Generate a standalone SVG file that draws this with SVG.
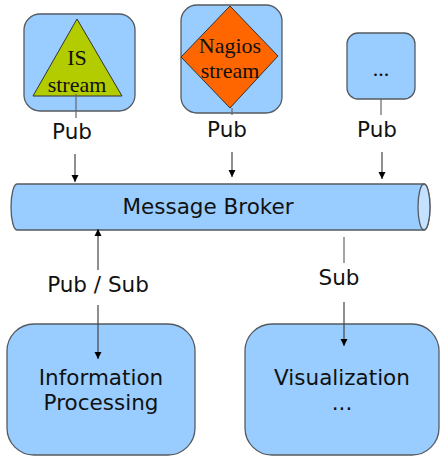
<svg xmlns="http://www.w3.org/2000/svg" width="440" height="457" viewBox="0 0 440 457">
  <style>
    .box { fill: #99ccff; stroke: #555a60; stroke-width: 1.3; }
    .lbl { font-family: "DejaVu Sans", "Liberation Sans", sans-serif; font-size: 21.5px; fill: #111; text-anchor: middle; }
    .ser { font-family: "Liberation Serif", "DejaVu Serif", serif; font-size: 22px; fill: #111; text-anchor: middle; }
    .ln { stroke: #666; stroke-width: 1.2; fill: none; }
    .ar { stroke: #444; stroke-width: 1.2; fill: none; marker-end: url(#head); }
  </style>
  <defs>
    <marker id="head" viewBox="0 0 10 10" refX="10" refY="5" markerWidth="7" markerHeight="9" markerUnits="userSpaceOnUse" orient="auto">
      <path d="M0,0 L10,5 L0,10 z" fill="#000"/>
    </marker>
  </defs>

  <!-- source streams -->
  <g id="is-stream">
    <rect class="box" x="24" y="14" width="111" height="97" rx="16"/>
    <polygon points="77,19 33,96 122,96" fill="#b3cc00" stroke="#333" stroke-width="1"/>
    <text class="ser" x="77" y="65">IS</text>
    <text class="ser" x="77" y="92">stream</text>
  </g>

  <g id="nagios-stream">
    <rect class="box" x="181" y="5" width="101" height="108" rx="16"/>
    <polygon points="230,6 278,56 230,108 181,57" fill="#ff6600" stroke="#333" stroke-width="1"/>
    <text class="ser" x="230" y="53">Nagios</text>
    <text class="ser" x="230" y="78">stream</text>
  </g>

  <g id="other-stream">
    <rect class="box" x="347" y="33" width="68" height="66" rx="11"/>
    <text class="ser" x="381" y="76">...</text>
  </g>

  <!-- broker bus -->
  <g id="message-broker">
    <path class="box" d="M17,184 L424,184 A6,23 0 0 1 424,230 L17,230 A6,23 0 0 1 17,184 Z"/>
    <ellipse cx="424" cy="207" rx="6" ry="23" fill="#c4e1ff" stroke="#555a60" stroke-width="1.3"/>
    <text class="lbl" x="208" y="214">Message Broker</text>
  </g>

  <!-- consumers -->
  <g id="information-processing">
    <rect class="box" x="7" y="324" width="188" height="131" rx="27"/>
    <text class="lbl" x="101" y="385">Information</text>
    <text class="lbl" x="101" y="410">Processing</text>
  </g>

  <g id="visualization">
    <rect class="box" x="245" y="324" width="194" height="131" rx="27"/>
    <text class="lbl" x="342" y="385">Visualization</text>
    <text class="lbl" x="342" y="410">...</text>
  </g>

  <!-- connectors -->
  <g id="connectors">
    <line class="ln" x1="76" y1="94" x2="76" y2="118"/>
    <text class="lbl" x="72" y="139">Pub</text>
    <line class="ar" x1="75" y1="154" x2="75" y2="182"/>

    <line class="ln" x1="232" y1="108" x2="232" y2="115"/>
    <text class="lbl" x="227" y="137">Pub</text>
    <line class="ar" x1="232" y1="152" x2="232" y2="177"/>

    <line class="ln" x1="381" y1="99" x2="381" y2="115"/>
    <text class="lbl" x="377" y="137">Pub</text>
    <line class="ar" x1="382" y1="152" x2="382" y2="179"/>

    <line class="ar" x1="98" y1="270" x2="98" y2="229"/>
    <text class="lbl" x="98" y="292">Pub / Sub</text>
    <line class="ar" x1="98" y1="305" x2="98" y2="359"/>

    <line class="ln" x1="344" y1="237" x2="344" y2="263"/>
    <text class="lbl" x="339" y="285">Sub</text>
    <line class="ar" x1="344" y1="302" x2="344" y2="346"/>
  </g>
</svg>
